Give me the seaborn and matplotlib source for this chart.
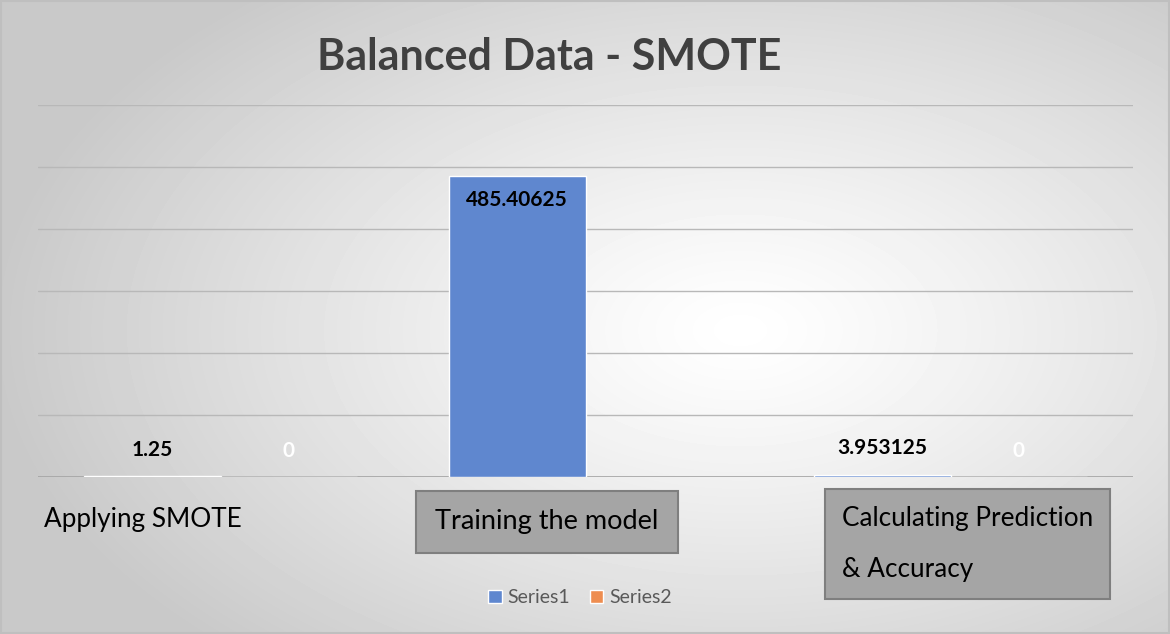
import numpy as np
import pandas as pd
import seaborn as sns
import matplotlib.pyplot as plt

# data
categories = ["Applying SMOTE", "Training the model", "Calculating Prediction & Accuracy"]
series1 = [1.25, 485.40625, 3.953125]
series2 = [0, np.nan, 0]
series_names = ["Series1", "Series2"]
colors = ["#5F87CF", "#EE8D50"]

sns.set_theme(style="white")
plt.rcParams["font.family"] = ["Lato", "DejaVu Sans"]

df = pd.DataFrame({
    "category": categories * 2,
    "series": [series_names[0]] * 3 + [series_names[1]] * 3,
    "value": series1 + series2,
})

fig = plt.figure(figsize=(11.7, 6.34), dpi=100)

# radial gradient background like the Excel chart area
bg = fig.add_axes([0, 0, 1, 1], zorder=-10)
yy, xx = np.mgrid[0:634, 0:1170]
r = np.sqrt(((xx - 740) / 680.0) ** 2 + ((yy - 330) / 400.0) ** 2)
shade = 1.0 - 0.19 * np.clip(r, 0, 1.1) ** 1.2
bg.imshow(shade, cmap="gray", vmin=0, vmax=1, aspect="auto", interpolation="bilinear")
bg.add_patch(plt.Rectangle((0.5, 0.5), 1168, 632, fill=False, ec="#bfbfbf", lw=1.5))
bg.set_axis_off()

ax = fig.add_axes([38 / 1170, 1 - 477 / 634, 1095 / 1170, 372 / 634])
ax.set_facecolor("none")
sns.barplot(data=df, x="category", y="value", hue="series", palette=colors,
            width=0.75, ax=ax, errorbar=None, saturation=1)

ax.set_ylim(0, 600)
ax.set_yticks(range(0, 601, 100))
ax.set_yticklabels([])
ax.set_xticks([])
ax.set_xlabel("")
ax.set_ylabel("")
ax.yaxis.grid(True, color="#b8b8b8", lw=1)
ax.set_axisbelow(True)
for s in ax.spines.values():
    s.set_visible(False)
ax.axhline(0, color="#a0a0a0", lw=1.2, zorder=0.5)


def fmt(v):
    return ("%f" % v).rstrip("0").rstrip(".")


label_colors = ["black", "white"]
for i, cont in enumerate(ax.containers):
    for p in cont.patches:
        h = p.get_height()
        if np.isnan(h):
            continue
        x = p.get_x() + p.get_width() / 2
        off = -17 if h > 50 else 19
        ax.annotate(fmt(h), (x, h), xytext=(0, off), textcoords="offset points",
                    ha="center", va="center", fontsize=15, fontweight="bold",
                    color=label_colors[i])

# rebuild legend at the bottom with bigger text
old = ax.get_legend()
handles = old.legend_handles
labels = [t.get_text() for t in old.get_texts()]
old.remove()
leg = ax.legend(handles, labels, loc="center", bbox_to_anchor=(0.495, -0.325), ncol=2,
                frameon=False, fontsize=14, handlelength=0.7, handleheight=0.7,
                handletextpad=0.3, columnspacing=1.0)
for t in leg.get_texts():
    t.set_color("#595959")

fig.text(549 / 1170, 1 - 57 / 634, "Balanced Data - SMOTE", ha="center", va="center",
         fontsize=31, fontweight="bold", color="#404040")

# category labels (edited text boxes in the original)
fig.text(44 / 1170, 1 - 520 / 634, categories[0], ha="left", va="center",
         fontsize=18.8, color="black")
fig.text(547 / 1170, 1 - 522 / 634, categories[1], ha="center", va="center",
         fontsize=19.5, color="black",
         bbox=dict(boxstyle="square,pad=0.7", fc="#A5A5A5", ec="#7F7F7F", lw=1.5))
fig.text(842 / 1170, 1 - 544 / 634, "Calculating Prediction\n& Accuracy", ha="left",
         va="center", fontsize=18.8, color="black", linespacing=2.3,
         bbox=dict(boxstyle="square,pad=0.65", fc="#A5A5A5", ec="#7F7F7F", lw=1.5))

fig.savefig("out.png", dpi=100)
